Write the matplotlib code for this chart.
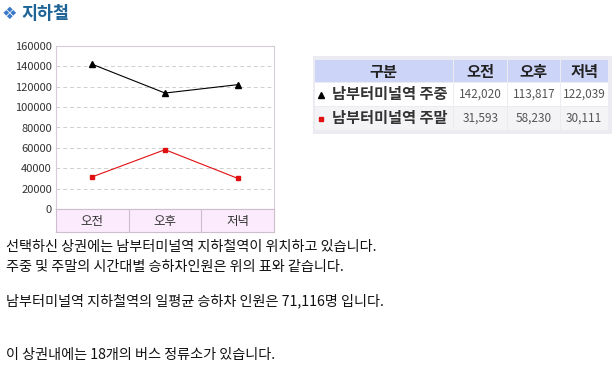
import numpy as np
import matplotlib
matplotlib.use("Agg")
import matplotlib.pyplot as plt
from matplotlib.patches import Rectangle

plt.rcParams['font.family'] = ['Noto Sans CJK KR', 'DejaVu Sans']
plt.rcParams['axes.unicode_minus'] = False

# 데이터
periods = ["오전", "오후", "저녁"]
weekday = [142020, 113817, 122039]
weekend = [31593, 58230, 30111]
series_names = ["남부터미널역 주중", "남부터미널역 주말"]
yticks = [0, 20000, 40000, 60000, 80000, 100000, 120000, 140000, 160000]
title = "지하철"
notes = [
    "선택하신 상권에는 남부터미널역 지하철역이 위치하고 있습니다.",
    "주중 및 주말의 시간대별 승하차인원은 위의 표와 같습니다.",
    "남부터미널역 지하철역의 일평균 승하차 인원은 71,116명 입니다.",
    "이 상권내에는 18개의 버스 정류소가 있습니다.",
]

W, H = 616, 370
fig = plt.figure(figsize=(W / 100, H / 100), dpi=100)


def px_axes(x0, y0, x1, y1):
    return fig.add_axes([x0 / W, 1 - y1 / H, (x1 - x0) / W, (y1 - y0) / H])


# 오버레이 (픽셀 좌표)
ov = px_axes(0, 0, W, H)
ov.set_xlim(0, W)
ov.set_ylim(H, 0)
ov.axis("off")

# 제목
ov.text(2, 14, "❖", color="#3a78c8", fontsize=12.5, va="center", ha="left",
        family=['DejaVu Sans'])
ov.text(21, 14, title, color="#1e6496", fontsize=12.5, fontweight="bold",
        va="center", ha="left")

# 선 그래프
ax = px_axes(56, 46, 274, 209)
x = np.arange(len(periods))
ax.plot(x, weekday, color="black", lw=0.8, marker="^", ms=4, zorder=3)
ax.plot(x, weekend, color="#e01010", lw=0.8, marker="s", ms=3.5, zorder=3)
ax.set_xlim(-0.5, len(periods) - 0.5)
ax.set_ylim(0, 160000)
ax.set_yticks(yticks)
ax.set_yticklabels([str(v) for v in yticks], fontsize=8, color="#333333")
ax.tick_params(axis="y", length=0, pad=3)
ax.set_xticks([])
for v in yticks[1:-1]:
    ax.axhline(v, color="#cfcfcf", lw=0.7, ls=(0, (4, 3)), zorder=1)
for s in ax.spines.values():
    s.set_color("#d6cbd8")
    s.set_linewidth(0.8)

# 카테고리 띠
cb = px_axes(56, 209, 274, 232)
cb.set_xlim(-0.5, len(periods) - 0.5)
cb.set_ylim(0, 1)
cb.set_facecolor("#fcebfc")
cb.set_xticks([])
cb.set_yticks([])
for s in cb.spines.values():
    s.set_color("#cdbdcd")
    s.set_linewidth(0.8)
for i, p in enumerate(periods):
    cb.text(i, 0.45, p, ha="center", va="center", fontsize=9, color="#333333")
    if i > 0:
        cb.axvline(i - 0.5, color="#cdbdcd", lw=0.8)

# 표
ov.add_patch(Rectangle((313, 56), 299, 78, facecolor="#ebebf1", edgecolor="none"))
col_x = [315, 454, 508, 561, 609]
row_y = [60, 83, 107, 131]
header = ["구분"] + periods
rows = [weekday, weekend]
row_bg = ["#ffffff", "#f4f4f7"]
for c in range(4):
    x0, x1 = col_x[c], col_x[c + 1] - 1.5
    ov.add_patch(Rectangle((x0, row_y[0]), x1 - x0, row_y[1] - row_y[0] - 1.5,
                           facecolor="#ccd4f8", edgecolor="none"))
    ov.text((x0 + x1) / 2, (row_y[0] + row_y[1]) / 2, header[c], ha="center",
            va="center", fontsize=11, fontweight="bold", color="#222222")
markers = [("^", "black", 4), ("s", "#e01010", 3.5)]
for r, vals in enumerate(rows):
    y0, y1 = row_y[r + 1], row_y[r + 2] - 1.5
    yc = (y0 + y1) / 2
    for c in range(4):
        x0, x1 = col_x[c], col_x[c + 1] - 1.5
        ov.add_patch(Rectangle((x0, y0), x1 - x0, y1 - y0,
                               facecolor=row_bg[r], edgecolor="none"))
    m, mc, ms = markers[r]
    ov.plot([321], [yc + 0.5], marker=m, color=mc, ms=ms, ls="none")
    ov.text(332, yc, series_names[r], ha="left", va="center", fontsize=11,
            fontweight="bold", color="#333333")
    for c, v in enumerate(vals):
        xc = (col_x[c + 1] + col_x[c + 2] - 1.5) / 2
        ov.text(xc, yc, f"{v:,}", ha="center", va="center",
                fontsize=8.5, color="#555555")

# 설명 문구
for txt, y in zip(notes, [247, 267, 301, 355]):
    ov.text(6, y, txt, ha="left", va="center", fontsize=10.2, color="#111111")

fig.savefig("out.png", dpi=100)
